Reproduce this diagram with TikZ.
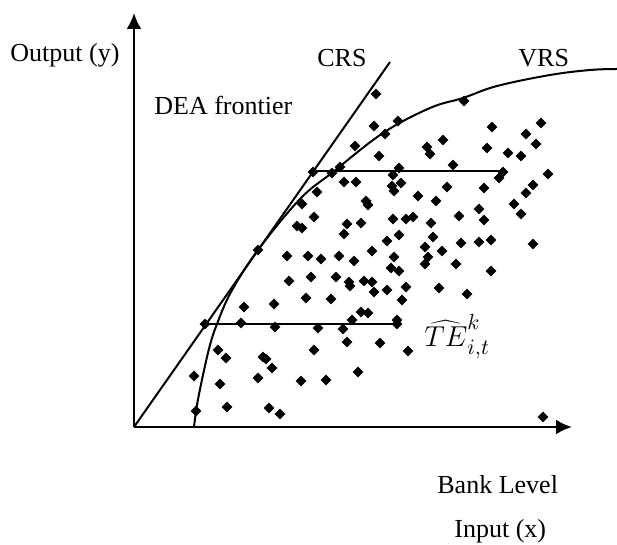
\documentclass[tikz,border=0pt]{standalone}
\usepackage{fontspec}
\setmainfont{Liberation Serif}
\usetikzlibrary{arrows.meta,shapes.geometric}
\begin{document}
\begin{tikzpicture}[x=0.5pt,y=-0.5pt,
  axis/.style={line width=1.25pt,-{Latex[length=8pt,width=7.5pt]}},
  curve/.style={line width=1pt},
  dot/.style={diamond,fill=black,inner sep=0pt,minimum size=5.6pt},
  lbl/.style={inner sep=0pt,anchor=base west,font=\fontsize{13}{15}\selectfont}]
\useasboundingbox (0,0) rectangle (617,545);
% axes
\coordinate (O) at (134,427);
\coordinate (ytip) at (134,13);
\coordinate (xtip) at (572,427);
\draw[axis] (O) -- (ytip);
\draw[axis] (O) -- (xtip);
% CRS frontier
\coordinate (crsend) at (390,62);
\draw[curve] (O) -- (crsend);
% VRS frontier
\draw[curve] plot[smooth,tension=0.6] coordinates {(194,427) (197,405) (203,375) (210,345) (217,324) (231,292) (258,250) (300,199) (333,172) (383,133) (430,108) (463,98) (497,86) (550,75) (590,70) (617,69)};
% horizontal distance lines
\coordinate (la) at (205,324);
\coordinate (lb) at (397,324);
\coordinate (ua) at (313,171);
\coordinate (ub) at (502,171);
\draw[curve] (la) -- (lb);
\draw[curve] (ua) -- (ub);
% data points
\foreach \x/\y [count=\i] in {
376/94,374/126,398/121,385/134,355/146,379/156,464/101,492/127,541/123,526/134,
536/144,487/148,508/153,521/156,443/140,427/147,430/154,453/165,399/168,393/175,
503/172,499/178,548/174,533/185,526/193,484/188,447/187,401/183,392/186,394/191,
418/196,436/201,366/201,368/205,313/172,332/173,340/167,344/182,356/182,317/192,
302/204,314/217,297/226,302/228,347/224,361/223,344/234,393/219,406/219,413/217,
399/235,387/241,425/247,372/251,514/204,521/214,479/209,484/220,459/216,431/223,
433/237,461/243,479/242,491/240,533/244,442/251,258/250,287/256,308/256,321/259,
339/256,354/261,394/257,428/257,425/264,456/264,391/268,399/271,491/271,289/281,
311/277,336/277,349/282,350/286,364/281,372/282,374/292,387/290,406/287,439/288,
467/294,306/298,331/299,402/300,244/307,274/304,361/312,368/313,352/320,397/320,
397/324,205/324,241/323,275/327,318/328,343/329,347/342,380/343,408/351,218/350,
226/358,263/357,266/359,272/368,314/350,358/372,194/376,220/384,258/378,301/381,
326/380,196/411,227/407,269/408,280/414,543/417}
  \node[dot] (p\i) at (\x,\y) {};
% labels
\node[lbl] (outy) at (10,62) {Output (y)};
\node[lbl] (dea) at (154,115) {DEA frontier};
\node[lbl] (crs) at (317,67) {CRS};
\node[lbl] (vrs) at (518,67) {VRS};
\node[lbl] (bank) at (437,494) {Bank Level};
\node[lbl] (inx) at (454,538) {Input (x)};
\node[inner sep=0pt,anchor=base west,font=\fontsize{15}{18}\selectfont] (te) at (424,347) {$\widehat{TE}^{k}_{i,t}$};
\end{tikzpicture}
\end{document}
